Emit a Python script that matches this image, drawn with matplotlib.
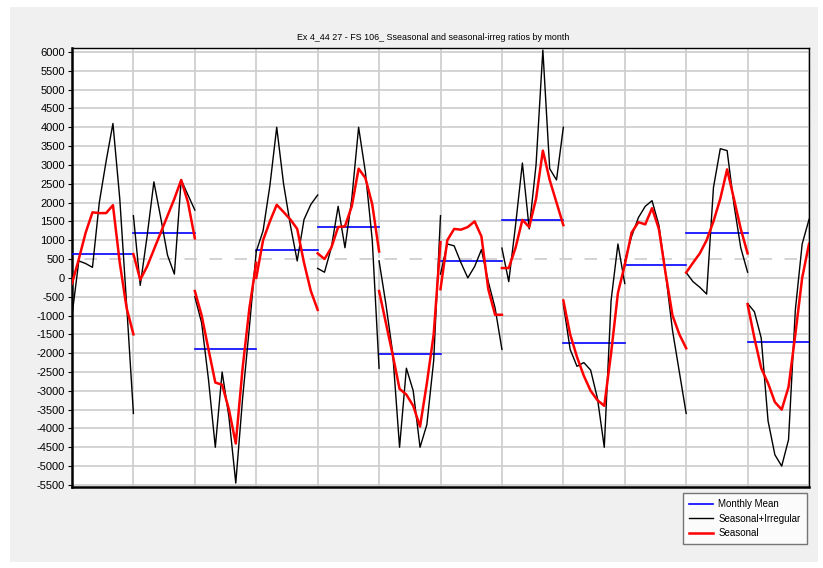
import matplotlib.pyplot as plt
from matplotlib.patches import Rectangle

# SI ratios by month, 10 years per month panel
months = ["Jan", "Feb", "Mar", "Apr", "May", "Jun",
          "Jul", "Aug", "Sep", "Oct", "Nov", "Dec"]

si_ratios = [
    [-1000, 450, 380, 280, 2000, 3100, 4100, 2100, -700, -3600],
    [1650, -200, 1100, 2550, 1600, 600, 100, 2600, 2200, 1800],
    [-500, -1200, -2700, -4500, -2500, -3700, -5450, -3200, -1300, 700],
    [700, 1250, 2450, 4000, 2500, 1400, 450, 1550, 1950, 2200],
    [250, 150, 800, 1900, 800, 2100, 4000, 2800, 1000, -2400],
    [450, -700, -2000, -4500, -2400, -3000, -4500, -3900, -2200, 1650],
    [100, 900, 850, 400, 0, 300, 750, -100, -800, -1900],
    [790, -100, 1400, 3050, 1300, 3000, 6050, 2900, 2600, 4000],
    [-700, -1900, -2350, -2250, -2450, -3200, -4500, -600, 900, -150],
    [450, 1100, 1600, 1900, 2050, 1400, 100, -1400, -2500, -3600],
    [140, -100, -250, -430, 2400, 3430, 3380, 1950, 800, 150],
    [-680, -900, -1600, -3800, -4700, -5000, -4300, -850, 900, 1550],
]

seasonal = [
    [-150, 500, 1200, 1740, 1720, 1720, 1930, 400, -800, -1500],
    [630, -50, 300, 750, 1200, 1650, 2100, 2600, 2000, 1050],
    [-350, -1000, -1900, -2780, -2840, -3500, -4400, -2400, -800, 400],
    [0, 1000, 1500, 1940, 1750, 1550, 1300, 400, -350, -850],
    [650, 500, 800, 1350, 1370, 1900, 2900, 2650, 1950, 700],
    [-350, -1200, -2050, -2950, -3100, -3400, -3950, -2800, -1500, 950],
    [-300, 1000, 1300, 1280, 1350, 1500, 1100, -300, -980, -980],
    [260, 260, 800, 1540, 1350, 2100, 3380, 2600, 2000, 1400],
    [-600, -1500, -2100, -2600, -3000, -3250, -3400, -2000, -400, 340],
    [340, 1200, 1480, 1420, 1850, 1300, 100, -1000, -1500, -1870],
    [140, 400, 650, 1000, 1500, 2100, 2880, 2100, 1300, 650],
    [-700, -1600, -2400, -2800, -3300, -3500, -2900, -1500, 0, 900],
]

monthly_mean = [630, 1190, -1900, 730, 1350, -2030, 450, 1540, -1730, 350, 1200, -1700]

yticks = list(range(-5500, 6001, 500))

plt.rcParams['font.family'] = ['Liberation Sans Narrow', 'Liberation Sans', 'DejaVu Sans']

fig = plt.figure(figsize=(8.23, 5.68), dpi=100, facecolor='white')
fig.patches.append(Rectangle((10 / 823, 1 - 562 / 568), 808 / 823, 555 / 568,
                             transform=fig.transFigure, facecolor='#f0f0f0',
                             edgecolor='none', zorder=-10))
ax = fig.add_axes([72 / 823, 1 - 487 / 568, 737 / 823, 439 / 568])
ax.set_facecolor('white')

for i in range(12):
    n = len(si_ratios[i])
    xs = [i + j / (n - 1) for j in range(n)]
    ax.plot([i, i + 1], [monthly_mean[i], monthly_mean[i]], color='#0000ff', lw=1.2, zorder=3)
    ax.plot(xs, si_ratios[i], color='black', lw=1.0, zorder=4)
    ax.plot(xs, seasonal[i], color='#ff0000', lw=1.8, zorder=5)

# white dashed line on the 500 grid line
ax.axhline(500, color='white', lw=1.5, ls=(0, (6, 6)), zorder=2)

ax.set_xlim(0, 12)
ax.set_ylim(-5555, 6105)
ax.set_yticks(yticks)
ax.set_yticklabels([str(v) for v in yticks], fontsize=8)
ax.set_xticks(range(13))
ax.set_xticklabels([])
ax.tick_params(axis='x', length=0)
ax.tick_params(axis='y', length=3, width=0.8, pad=2, colors='black')
ax.grid(True, color='#cccccc', lw=1.2, zorder=1)
ax.set_axisbelow(True)
for s in ax.spines.values():
    s.set_color('black')
    s.set_linewidth(1.0)
ax.spines['left'].set_linewidth(1.8)
ax.spines['bottom'].set_linewidth(1.8)

fig.text(433 / 823, 1 - 38 / 568, "Ex 4_44 27 - FS 106_ Sseasonal and seasonal-irreg ratios by month",
         ha='center', va='center', fontsize=6.4)

h1, = ax.plot([], [], color='#0000ff', lw=1.2, label='Monthly Mean')
h2, = ax.plot([], [], color='black', lw=1.0, label='Seasonal+Irregular')
h3, = ax.plot([], [], color='#ff0000', lw=1.8, label='Seasonal')
leg = fig.legend(handles=[h1, h2, h3], loc='upper left', bbox_to_anchor=(683 / 823, 1 - 493 / 568),
                 fontsize=7, frameon=True, fancybox=False, borderaxespad=0,
                 handlelength=2.4, handletextpad=0.6, labelspacing=0.45, borderpad=0.65)
leg.get_frame().set_edgecolor('#555555')
leg.get_frame().set_linewidth(1.0)

fig.savefig('out.png', dpi=100, facecolor=fig.get_facecolor())
